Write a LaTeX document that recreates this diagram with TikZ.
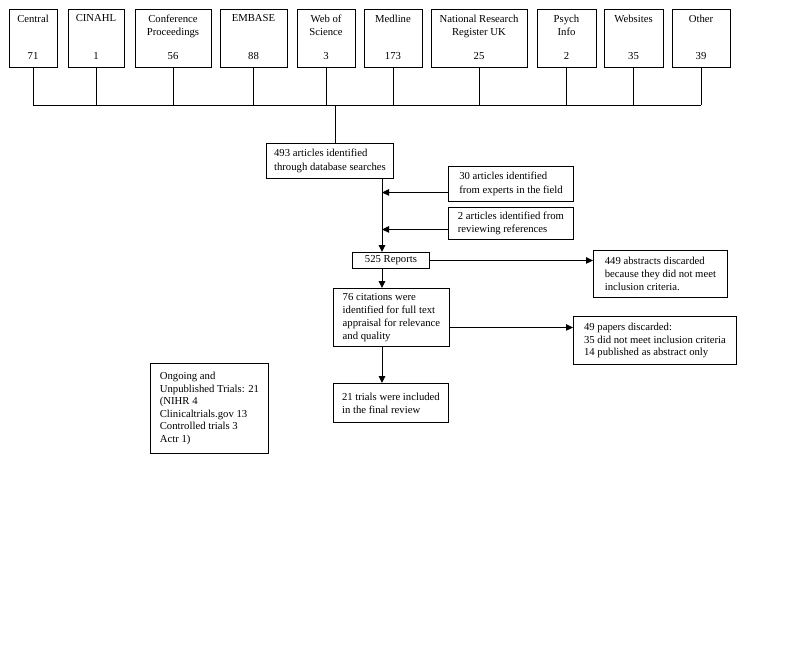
\documentclass[tikz,border=0pt]{standalone}
\usepackage{fontspec}
\setmainfont{Liberation Serif}
\usetikzlibrary{arrows.meta,positioning}

\begin{document}
\begin{tikzpicture}[
    x=1pt, y=-1pt,
    every node/.style={font=\fontsize{10.7}{13.2}\selectfont},
    srcbox/.style={draw, line width=0.9pt, minimum height=58, inner sep=0pt},
    srctext/.style={inner sep=0pt, align=center},
    flow/.style={draw, line width=0.9pt, anchor=north west, align=left, inner xsep=2pt, inner ysep=2pt},
    link/.style={line width=0.9pt},
    arr/.style={link, -{Triangle[length=7pt,width=6.5pt]}},
]
\useasboundingbox (0,0) rectangle (795,649);
\foreach \id/\xl/\xr/\lbl/\num in {cen/9/57/Central/71, cin/68/124/CINAHL/1, conf/135/211/{Conference\\Proceedings}/56, emb/220/287/EMBASE/88, wos/297/355/{Web of\\Science}/3, med/364/422/Medline/173, nrr/431/527/{National Research\\Register UK}/25, psy/537/596/{Psych\\Info}/2, web/604/663/Websites/35, oth/672/730/Other/39} {
  \node[srcbox, minimum width={\xr-\xl}] (s-\id) at ({(\xl+\xr)/2},38) {};
  \node[srctext, anchor=north] (s-\id-t) at ([yshift=-6pt]s-\id.north) {\lbl};
  \node[srctext, anchor=base] (s-\id-n) at ([yshift=7.5pt]s-\id.south) {\num};
}
\coordinate (bus) at (335,105);
\coordinate (spine) at (382,0);
\foreach \id in {cen,cin,conf,emb,wos,med,nrr,psy,web,oth}
  \draw[link] (s-\id.south) -- (s-\id.south |- bus);
\draw[link] (s-cen.south |- bus) -- (s-oth.south |- bus);
\node[flow, minimum width=127, minimum height=35] (db) at (266,143) {493 articles identified\\through database searches};
\node[flow, minimum width=125, minimum height=35] (exp) at (448,166) {30 articles identified\\from experts in the field};
\node[flow, minimum width=125, minimum height=32] (ref) at (448,207) {2 articles identified from\\reviewing references};
\node[flow, minimum width=77, minimum height=16, inner ysep=1pt] (rep) at (352,252) {525 Reports};
\node[flow, minimum width=134, minimum height=47] (abs) at (593,250) {449 abstracts discarded\\because they did not meet\\inclusion criteria.};
\node[flow, minimum width=116, minimum height=58] (cit) at (333,288) {76 citations were\\identified for full text\\appraisal for relevance\\and quality};
\node[flow, minimum width=163, minimum height=48, font=\fontsize{10.7}{12.5}\selectfont] (dis) at (573,316) {49 papers discarded:\\35 did not meet inclusion criteria\\14 published as abstract only};
\node[flow, minimum width=115, minimum height=39] (inc) at (333,383) {21 trials were included\\in the final review};
\node[flow, minimum width=118, minimum height=90, font=\fontsize{10.7}{12.5}\selectfont] (ong) at (150,363) {Ongoing and\\Unpublished Trials: 21\\(NIHR 4\\Clinicaltrials.gov 13\\Controlled trials 3\\Actr 1)};
\draw[link] (bus) -- (bus |- db.north);
\draw[arr] (db.south -| spine) -- (rep.north -| spine);
\draw[arr] ([yshift=-8.5pt]exp.west) -- ([yshift=-8.5pt]exp.west -| spine);
\draw[arr] ([yshift=-6pt]ref.west) -- ([yshift=-6pt]ref.west -| spine);
\draw[arr] (rep.east) -- (rep.east -| abs.west);
\draw[arr] (rep.south -| spine) -- (cit.north -| spine);
\draw[arr] ([yshift=-10pt]cit.east) -- ([yshift=-10pt]cit.east -| dis.west);
\draw[arr] (cit.south -| spine) -- (inc.north -| spine);
\end{tikzpicture}
\end{document}
